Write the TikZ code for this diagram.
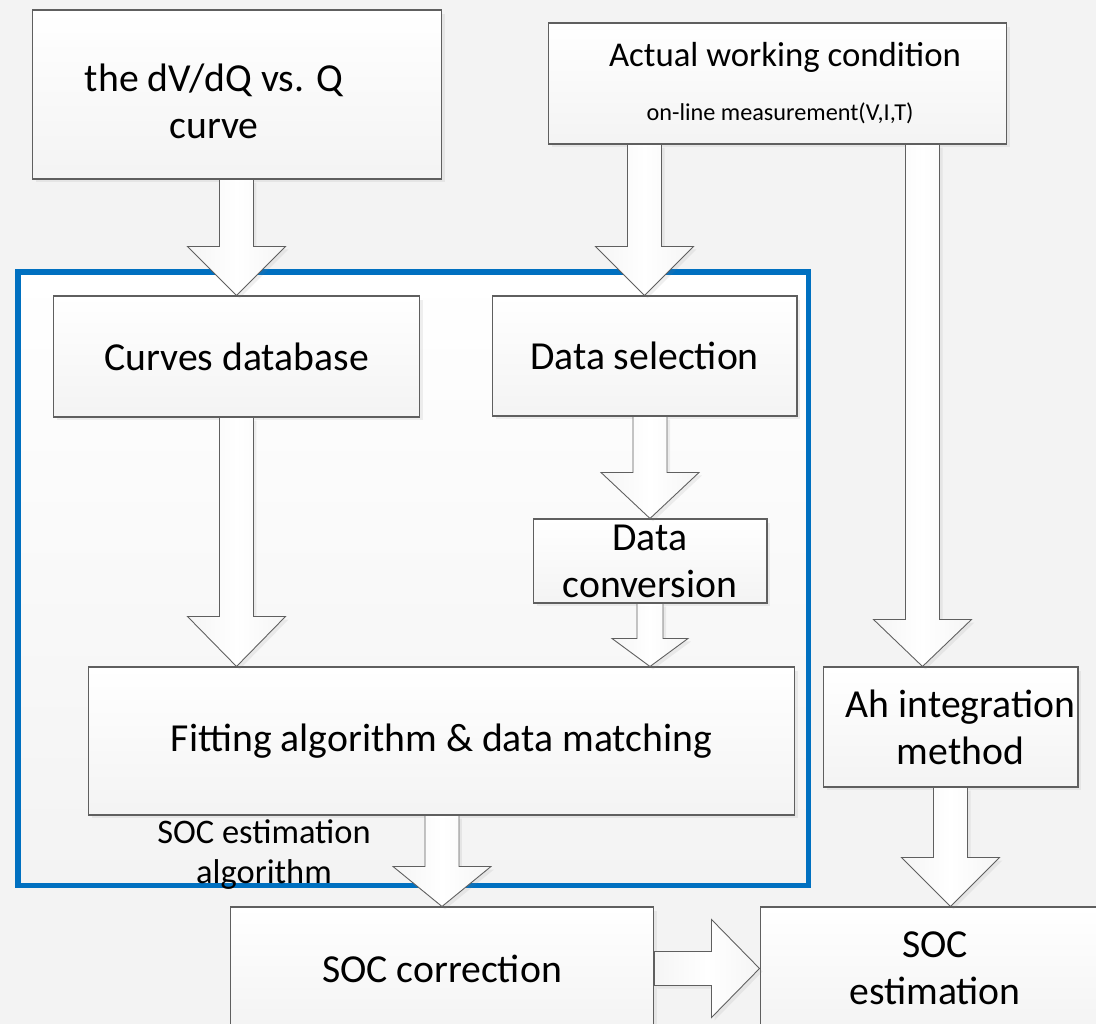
\documentclass[tikz,border=0pt]{standalone}
\usepackage{fontspec}
\setmainfont{Carlito}
\usepackage{tikz}
\usetikzlibrary{calc,shadows}

\definecolor{socblue}{HTML}{0070C0}
\definecolor{bggray}{HTML}{F3F3F3}
\definecolor{edgegray}{HTML}{5F5F5F}
\newcommand{\pxu}{0.569pt}

% vertical block arrow: from, tip, shaft half width, head half width, head length (px)
\newcommand{\blockdown}[5]{%
  \draw[blockarrow] let \p1=#1, \p2=#2 in
    ({\x2-#3*\pxu},\y1) -- ({\x2-#3*\pxu},{\y2+#5*\pxu}) -- ({\x2-#4*\pxu},{\y2+#5*\pxu}) -- (\p2)
    -- ({\x2+#4*\pxu},{\y2+#5*\pxu}) -- ({\x2+#3*\pxu},{\y2+#5*\pxu}) -- ({\x2+#3*\pxu},\y1) -- cycle;}
% horizontal block arrow, same arguments
\newcommand{\blockright}[5]{%
  \draw[blockarrow] let \p1=#1, \p2=#2 in
    (\x1,{\y2+#3*\pxu}) -- ({\x2-#5*\pxu},{\y2+#3*\pxu}) -- ({\x2-#5*\pxu},{\y2+#4*\pxu}) -- (\p2)
    -- ({\x2-#5*\pxu},{\y2-#4*\pxu}) -- ({\x2-#5*\pxu},{\y2-#3*\pxu}) -- (\x1,{\y2-#3*\pxu}) -- cycle;}

\tikzset{
  box/.style={draw=edgegray, line width=0.6pt, top color=white, bottom color=gray!9,
    inner sep=0pt, align=center, font=\fontsize{22.6}{26.7}\selectfont,
    drop shadow={shadow xshift=0.07cm, shadow yshift=-0.07cm, opacity=0.12}},
  txt/.style={align=center, font=\fontsize{22.6}{26.7}\selectfont},
  lbl/.style={align=center, font=\fontsize{19.6}{22.8}\selectfont},
  blockarrow/.style={draw=edgegray, line width=0.5pt, left color=gray!8, right color=gray!8,
    middle color=white, drop shadow={shadow xshift=0.06cm, shadow yshift=-0.06cm, opacity=0.12}}
}

\begin{document}
\begin{tikzpicture}[x=0.02cm, y=-0.02cm]
    % coordinates in pixels of the 1096x1024 picture, y downwards
    \clip (0,0) rectangle (1096,1024);
    \fill[bggray] (0,0) rectangle (1096,1024);
    \path[draw=socblue, line width=2.85pt, top color=white, bottom color=bggray] (18,272) rectangle (808,885);

    \node[box, minimum width=8.2cm, minimum height=3.38cm] (dvdq) at (237,94.5) {};
    \node[txt] (dvdqtxt) at (214,101) {the dV/dQ vs. Q\\curve};
    \node[box, minimum width=9.18cm, minimum height=2.42cm] (actual) at (777.5,83.5)
        {{\fontsize{19.8}{24}\selectfont\hspace*{0.3cm}Actual working condition}\\[4pt]{\fontsize{13.8}{17}\selectfont\hspace*{0.1cm}on-line measurement(V,I,T)}};
    \node[box, minimum width=7.34cm, minimum height=2.42cm] (curves) at (236.5,356.5) {Curves database};
    \node[box, minimum width=6.1cm, minimum height=2.4cm] (ds) at (644.5,356) {Data selection};
    \node[box, minimum width=4.68cm, minimum height=1.68cm, text depth=0pt] (dc) at (650,561) {Data\\conversion};
    \node[box, minimum width=14.14cm, minimum height=2.96cm] (fit) at (441.5,741) {Fitting algorithm \& data matching};
    \node[box, minimum width=5.1cm, minimum height=2.4cm] (ah) at (950.5,727) {\hspace*{0.4cm}Ah integration\\\hspace*{0.4cm}method};
    \node[box, minimum width=8.48cm, minimum height=2.46cm] (soccorr) at (442,968.5) {SOC correction};
    \node[box, minimum width=7cm, minimum height=2.46cm] (socest) at (935,968.5) {SOC\\estimation};

    \coordinate (ahin) at ([xshift=-0.56cm]ah.north);
    \blockdown{(dvdq.south -| curves.north)}{(curves.north)}{17}{49}{49}
    \blockdown{(actual.south -| ds.north)}{(ds.north)}{17}{49}{49}
    \blockdown{(actual.south -| ahin)}{(ahin)}{17}{49}{47}
    \blockdown{(ds.south -| dc.north)}{(dc.north)}{17}{49}{46}
    \blockdown{(curves.south)}{(curves.south |- fit.north)}{17}{49}{50}
    \blockdown{(dc.south)}{(dc.south |- fit.north)}{13}{38}{28}
    \blockdown{(fit.south -| soccorr.north)}{(soccorr.north)}{17}{49}{40}
    \blockdown{(ah.south)}{(ah.south |- socest.north)}{17}{49}{49}
    \blockright{(soccorr.east)}{(socest.west)}{17}{49}{48}

    \node[lbl] (socalg) at (264,855) {SOC estimation\\algorithm};
\end{tikzpicture}
\end{document}
